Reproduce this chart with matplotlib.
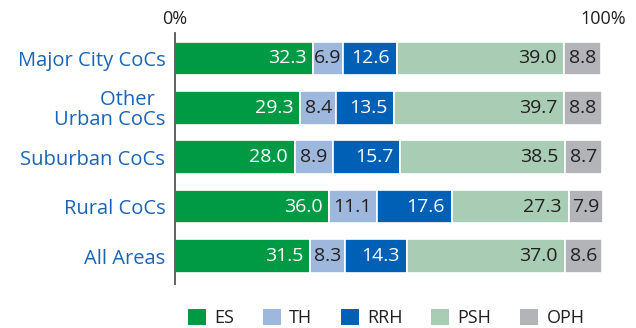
import matplotlib
matplotlib.use("Agg")
import matplotlib.pyplot as plt
from matplotlib.patches import Patch

plt.rcParams['font.family'] = ['Open Sans', 'DejaVu Sans']

categories = ["Major City CoCs", "Other  \nUrban CoCs", "Suburban CoCs", "Rural CoCs", "All Areas"]
series = ["ES", "TH", "RRH", "PSH", "OPH"]
es = [32.3, 29.3, 28.0, 36.0, 31.5]
th = [6.9, 8.4, 8.9, 11.1, 8.3]
rrh = [12.6, 13.5, 15.7, 17.6, 14.3]
psh = [39.0, 39.7, 38.5, 27.3, 37.0]
oph = [8.8, 8.8, 8.7, 7.9, 8.6]
axis_labels = ["0%", "100%"]

values = [es, th, rrh, psh, oph]
colors = ["#009a44", "#9db8dc", "#0060b6", "#a8ccb4", "#b2b4b7"]
text_colors = ["white", "#231f20", "white", "#231f20", "#231f20"]
label_blue = "#1a64b6"
fs_val = 14
fs_cat = 14.5
fs_small = 13

fig = plt.figure(figsize=(6.36, 3.28), dpi=100)
ax = fig.add_axes([175 / 636, 1 - 284 / 328, (603 - 175) / 636, (284 - 33) / 328])

ypos = list(range(len(categories)))
left = [0.0] * len(categories)
for vals, col, tcol in zip(values, colors, text_colors):
    ax.barh(ypos, vals, left=left, height=0.68, color=col,
            edgecolor="white", linewidth=1.2)
    for y, l, v in zip(ypos, left, vals):
        if v >= 12:
            ax.text(l + v - 1.6, y, f"{v:.1f}", ha="right", va="center",
                    color=tcol, fontsize=fs_val)
        else:
            ax.text(l + v / 2, y, f"{v:.1f}", ha="center", va="center",
                    color=tcol, fontsize=fs_val)
    left = [a + b for a, b in zip(left, vals)]

ax.set_xlim(0, 100)
ax.set_ylim(4.567, -0.516)
ax.set_yticks(ypos)
ax.set_yticklabels(categories, color=label_blue, fontsize=fs_cat, linespacing=1.0)
ax.tick_params(axis="y", length=0, pad=7)
ax.set_xticks([])
for s in ["top", "right", "bottom"]:
    ax.spines[s].set_visible(False)
ax.spines["left"].set_color("#555555")
ax.spines["left"].set_linewidth(1.3)

for x, lab in zip([0, 100], axis_labels):
    ax.annotate(lab, xy=(x, 0), xycoords=("data", "axes fraction"),
                xytext=(0, 251 + 14), textcoords="offset pixels",
                ha="center", va="center", color="#231f20", fontsize=fs_small)

handles = [Patch(facecolor=c, edgecolor="none") for c in colors]
fig.legend(handles, series, loc="center", bbox_to_anchor=(386 / 636, 1 - 318 / 328),
           ncol=5, frameon=False, fontsize=fs_small, handlelength=1.0,
           handleheight=1.0, handletextpad=0.45, columnspacing=1.6,
           labelcolor="#231f20")

fig.savefig("out.png", dpi=100)
